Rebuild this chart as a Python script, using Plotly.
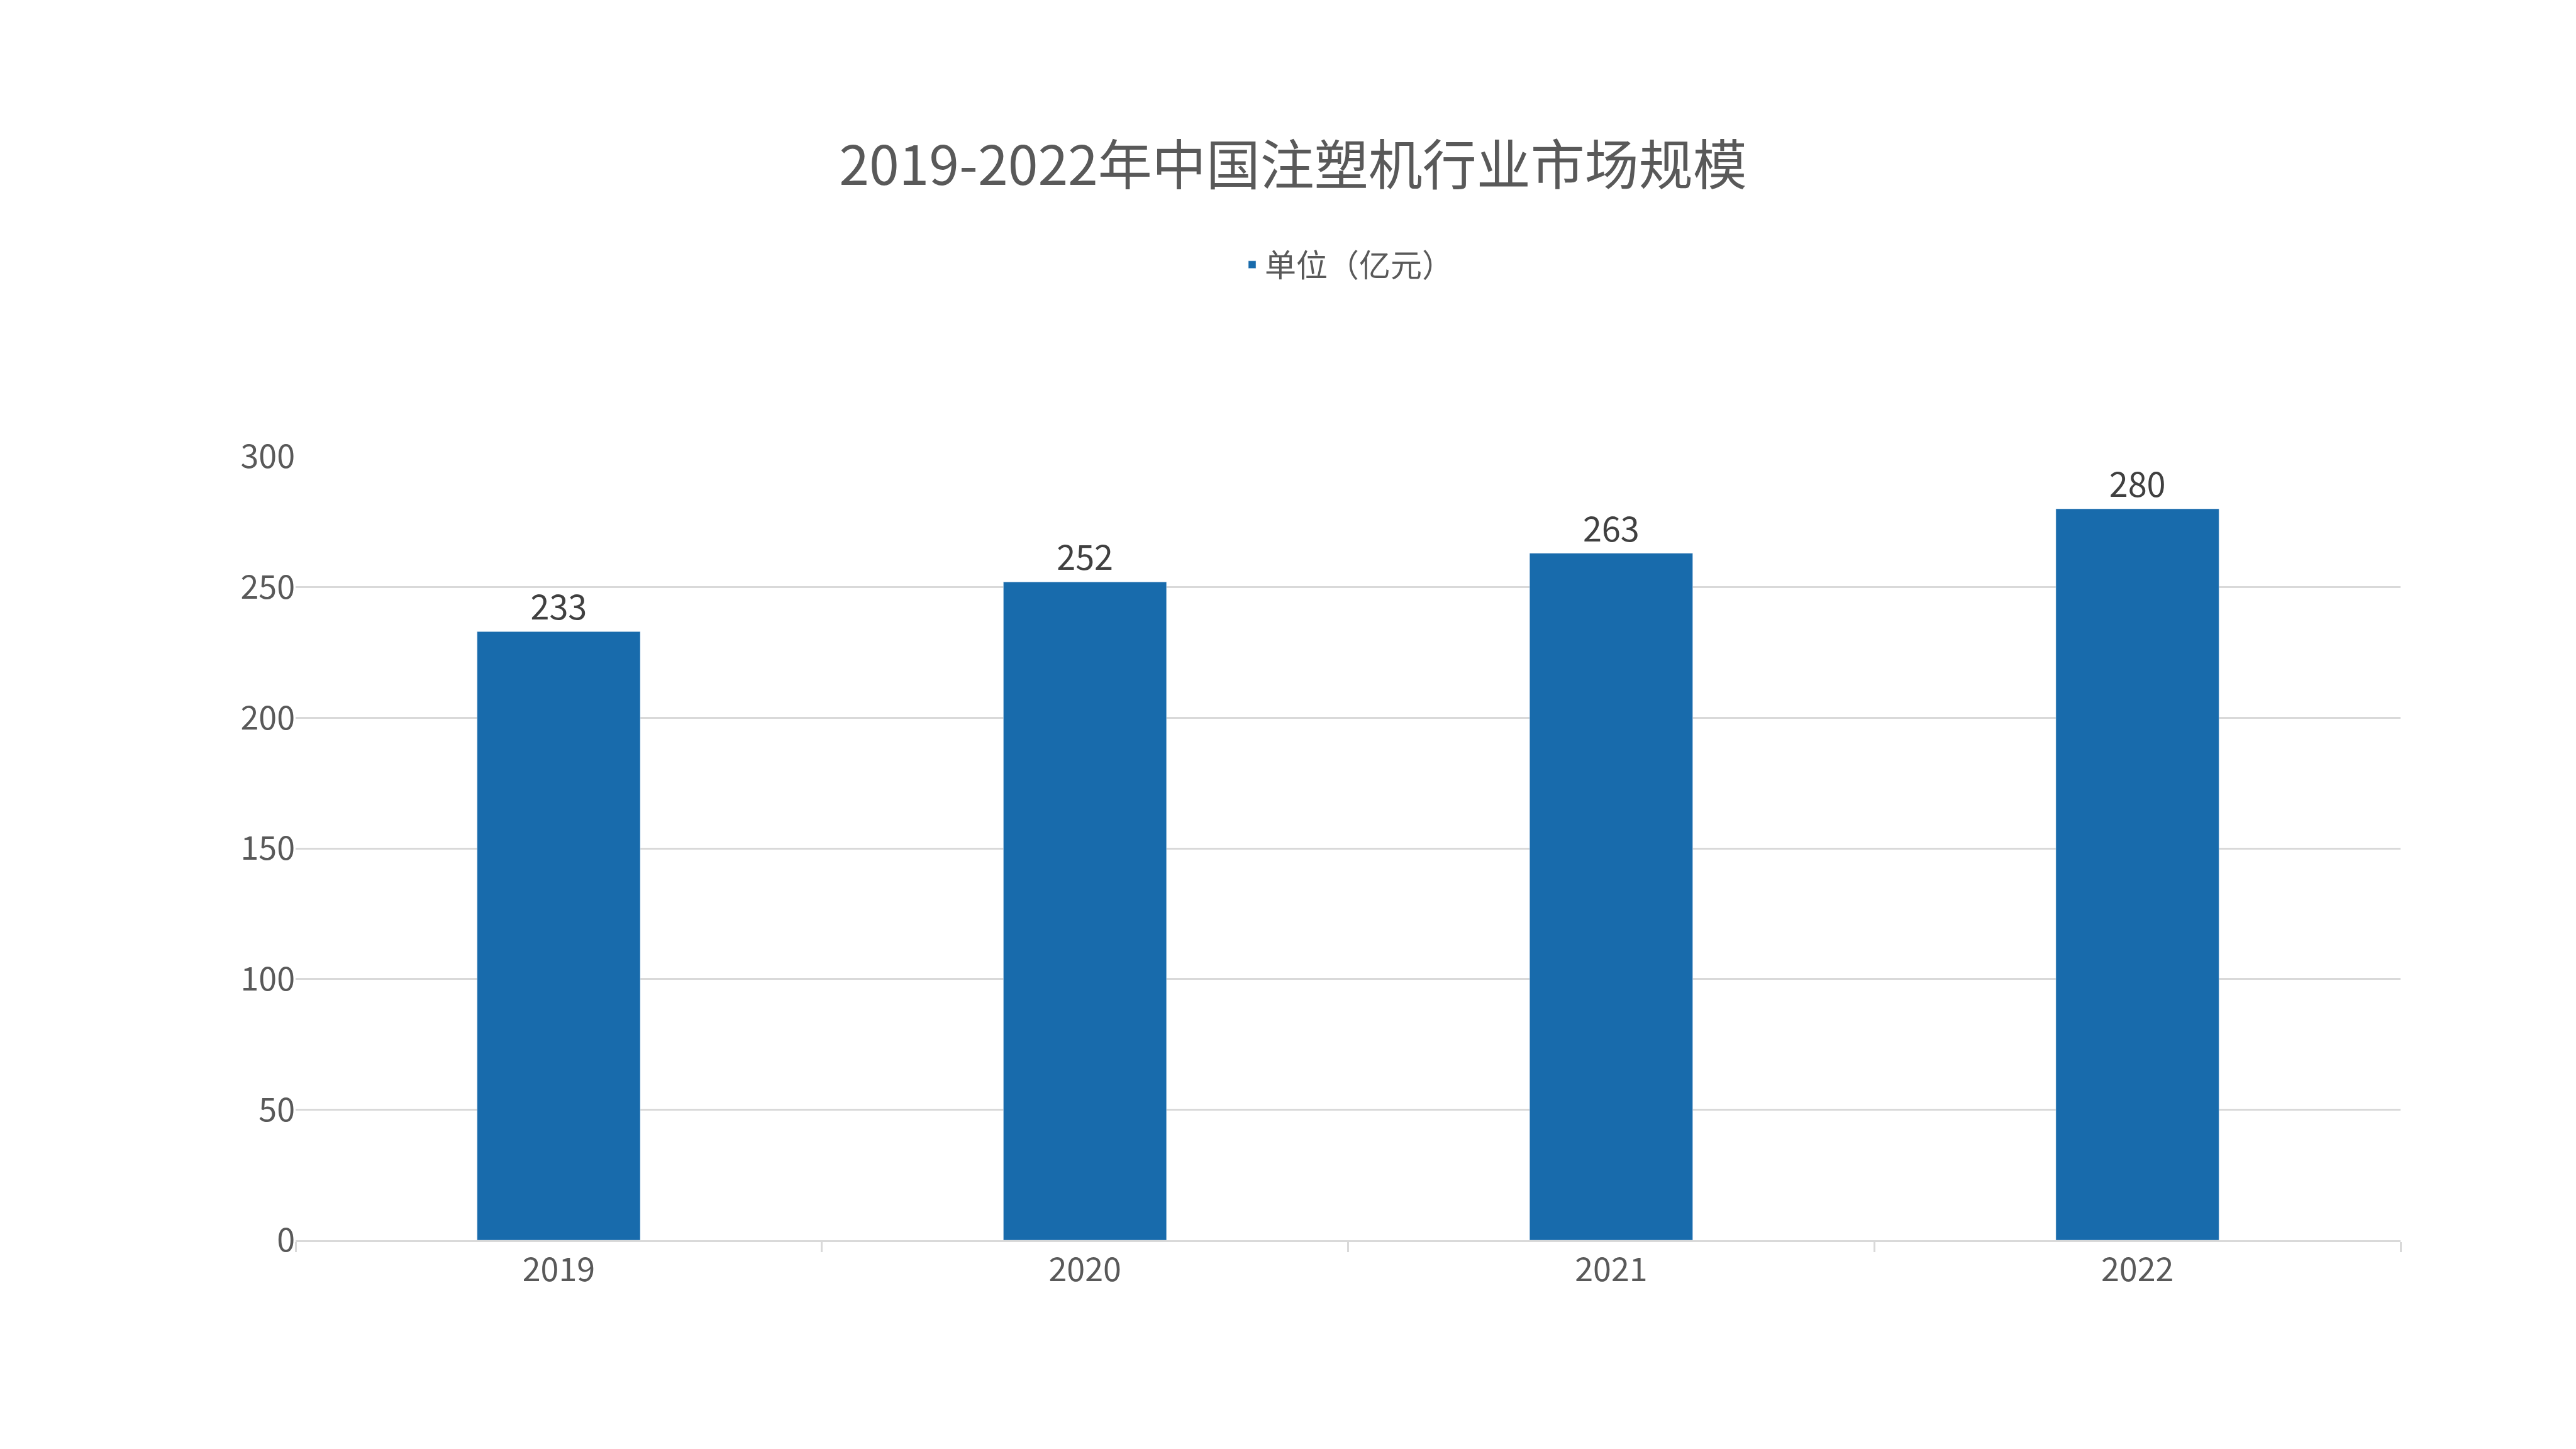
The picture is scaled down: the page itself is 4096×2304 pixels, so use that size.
import plotly.graph_objects as go

years = ["2019", "2020", "2021", "2022"]
values = [233, 252, 263, 280]
y_ticks = [0, 50, 100, 150, 200, 250, 300]

FONT = "Noto Sans CJK SC"
GREY = "#595959"

fig = go.Figure()
fig.add_trace(go.Bar(
    x=years, y=values, name="单位（亿元）",
    marker_color="#186BAC", width=0.31,
    text=values, textposition="outside", cliponaxis=False,
    textfont=dict(size=54, color="#404040", family=FONT),
))

fig.update_layout(
    width=4096, height=2304,
    paper_bgcolor="white", plot_bgcolor="white",
    margin=dict(l=462, r=287, t=718, b=340),
    font=dict(family=FONT, color=GREY),
    title=dict(text="2019-2022年中国注塑机行业市场规模", x=0.5, xanchor="center",
               y=0.889, yanchor="middle", font=dict(size=86, color=GREY)),
    showlegend=True,
    legend=dict(orientation="h", x=0.5, xanchor="center", y=1.245, yanchor="middle",
                font=dict(size=50, color=GREY)),
    bargap=0.69,
)
fig.update_yaxes(range=[0, 300], tickvals=y_ticks, showgrid=True, gridcolor="#D9D9D9",
                 gridwidth=3, zeroline=False, showline=False,
                 tickfont=dict(size=52, color=GREY), ticklen=0, ticks="")
fig.update_xaxes(showline=True, linecolor="#D9D9D9", linewidth=3, tickson="boundaries",
                 ticks="outside", ticklen=16, tickcolor="#D9D9D9", tickwidth=3,
                 tickfont=dict(size=52, color=GREY))

fig.write_html("out.html")
